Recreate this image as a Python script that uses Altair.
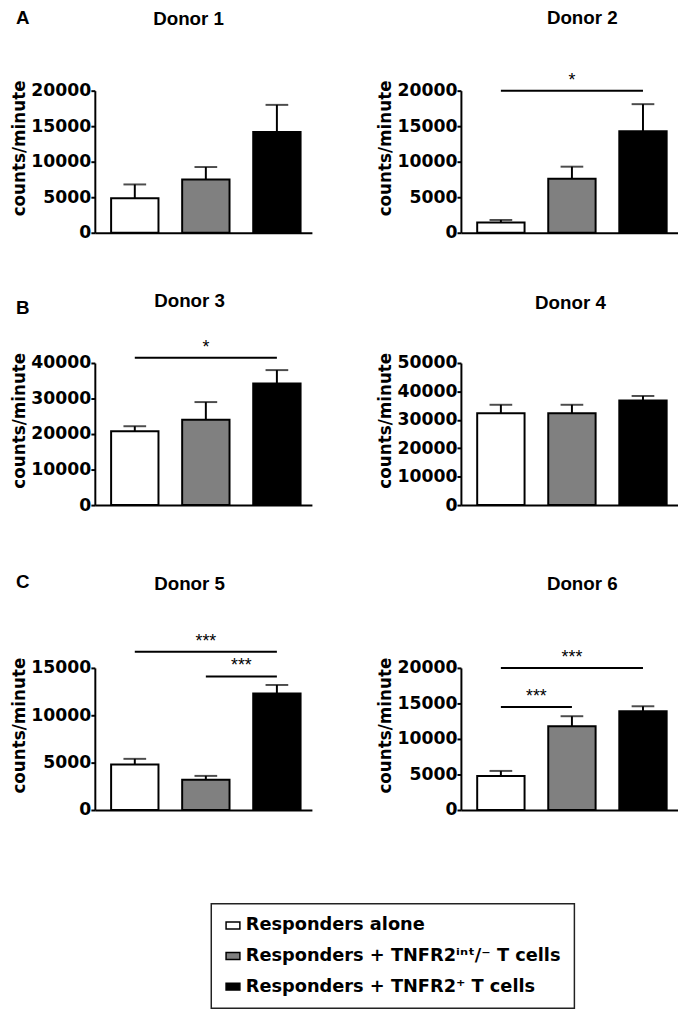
import altair as alt
import pandas as pd

# ---------------- data ----------------
GROUPS = [
    "Responders alone",
    "Responders + TNFR2ⁱⁿᵗ/⁻ T cells",
    "Responders + TNFR2⁺ T cells",
]
COLORS = ["#ffffff", "#808080", "#000000"]
DONORS = ["Donor 1", "Donor 2", "Donor 3", "Donor 4", "Donor 5", "Donor 6"]
PANEL_LETTERS = ["A", "B", "C"]

MEAN_D1 = [4850, 7500, 14200]
ERR_D1 = [6800, 9250, 18000]
MEAN_D2 = [1450, 7600, 14300]
ERR_D2 = [1800, 9300, 18100]
MEAN_D3 = [20800, 24000, 34200]
ERR_D3 = [22200, 29000, 38000]
MEAN_D4 = [32300, 32300, 36800]
ERR_D4 = [35300, 35300, 38400]
MEAN_D5 = [4800, 3200, 12300]
ERR_D5 = [5400, 3600, 13200]
MEAN_D6 = [4800, 11800, 13900]
ERR_D6 = [5500, 13200, 14600]

MEANS = [MEAN_D1, MEAN_D2, MEAN_D3, MEAN_D4, MEAN_D5, MEAN_D6]
ERRS = [ERR_D1, ERR_D2, ERR_D3, ERR_D4, ERR_D5, ERR_D6]

Y_MAX = [20000, 20000, 40000, 50000, 15000, 20000]
Y_STEP = [5000, 5000, 10000, 10000, 5000, 5000]

# significance brackets: donor index, from group, to group, level, label
SIG_DONOR = [1, 2, 4, 4, 5, 5]
SIG_FROM = [0, 0, 0, 1, 0, 0]
SIG_TO = [2, 2, 2, 2, 2, 1]
SIG_LEVEL = [20000, 41500, 16700, 14100, 20000, 14500]
SIG_LABEL = ["*", "*", "***", "***", "***", "***"]

# ---------------- layout / style ----------------
NUM_FONT = "DejaVu Sans"
TITLE_FONT = "Liberation Sans"
PW, PH = 220, 144
X_DOMAIN = [0.4375, 3.493]
TITLE_OFFSET = [52, 45, 28, 40, 40, 56]
TITLE_DX = [-15, 13, -14, 1, -14, 13]
LETTER_OFFSET = [-19, -26, -17]

legend = alt.Legend(
    title=None,
    orient="none",
    legendX=118,
    legendY=824,
    direction="vertical",
    symbolType="M-1,-0.5H1V0.5H-1Z",
    symbolSize=196,
    symbolStrokeColor="black",
    symbolStrokeWidth=1.5,
    labelFont=NUM_FONT,
    labelFontWeight="bold",
    labelFontSize=18,
    labelColor="black",
    labelLimit=600,
    labelOffset=4,
)


def make_panel(i):
    df = pd.DataFrame({
        "group": GROUPS,
        "pos": [k + 1 for k in range(len(GROUPS))],
        "mean": MEANS[i],
        "err": ERRS[i],
    })
    ticks = list(range(0, Y_MAX[i] + 1, Y_STEP[i]))
    yscale = alt.Scale(domain=[0, Y_MAX[i]], nice=False, padding=0)
    xscale = alt.Scale(domain=X_DOMAIN, nice=False, zero=False, padding=0)
    xaxis = alt.Axis(labels=False, ticks=False, title=None, grid=False)
    yaxis = alt.Axis(values=ticks, format="d", title="counts/minute",
                     titleY=58, grid=False, labelOverlap=False)

    def X(field):
        return alt.X(field, scale=xscale, axis=xaxis)

    def Y(field):
        return alt.Y(field, scale=yscale, axis=yaxis)

    bars = alt.Chart(df).mark_bar(size=48, stroke="black", strokeWidth=2).encode(
        x=X("pos:Q"), y=Y("mean:Q"),
        color=alt.Color("group:N", sort=GROUPS,
                        scale=alt.Scale(domain=GROUPS, range=COLORS),
                        legend=legend),
    )
    stem = alt.Chart(df).mark_rule(color="black", strokeWidth=2).encode(
        x=X("pos:Q"), y=Y("mean:Q"), y2="err:Q")
    cap = alt.Chart(df).mark_tick(color="black", thickness=2, size=23,
                                  orient="horizontal").encode(
        x=X("pos:Q"), y=Y("err:Q"))
    layers = [bars, stem, cap]

    rows = [k for k, d in enumerate(SIG_DONOR) if d == i]
    if rows:
        sdf = pd.DataFrame({
            "x1": [SIG_FROM[k] + 1 for k in rows],
            "x2": [SIG_TO[k] + 1 for k in rows],
            "level": [SIG_LEVEL[k] for k in rows],
            "label": [SIG_LABEL[k] for k in rows],
        })
        sdf["mid"] = (sdf["x1"] + sdf["x2"]) / 2
        layers.append(alt.Chart(sdf).mark_rule(color="black", strokeWidth=2).encode(
            x=X("x1:Q"), x2="x2:Q", y=Y("level:Q")))
        layers.append(alt.Chart(sdf).mark_text(font=TITLE_FONT, fontSize=18,
                                               baseline="bottom", dy=-1,
                                               color="black").encode(
            x=X("mid:Q"), y=Y("level:Q"), text="label:N"))

    return alt.layer(*layers).properties(
        width=PW, height=PH,
        title=alt.TitleParams(DONORS[i], offset=TITLE_OFFSET[i],
                              dx=TITLE_DX[i], font=TITLE_FONT, fontSize=19,
                              fontWeight="bold", color="black"),
    )


def make_row(r):
    return alt.hconcat(make_panel(2 * r), make_panel(2 * r + 1), spacing=66).properties(
        title=alt.TitleParams(PANEL_LETTERS[r], anchor="start", offset=LETTER_OFFSET[r],
                              dx=5, font=TITLE_FONT, fontSize=19,
                              fontWeight="bold", color="black"))


top_rows = alt.vconcat(make_row(0), make_row(1), spacing=51)

chart = (
    alt.vconcat(top_rows, make_row(2), spacing=59)
    .resolve_scale(color="shared")
    .properties(padding={"top": -6, "left": 3, "right": 0, "bottom": 0})
    .configure_view(strokeWidth=0)
    .configure_axis(
        domainColor="black", domainWidth=2, tickColor="black", tickWidth=2,
        tickSize=4, labelColor="black", titleColor="black",
        labelFont=NUM_FONT, labelFontWeight="bold", labelFontSize=17.5,
        titleFont=NUM_FONT, titleFontWeight="bold", titleFontSize=17,
        labelPadding=0, titlePadding=2,
    )
    .configure_legend(
        strokeColor="#222222", strokeWidth=1.5, fillColor="white",
        padding=13, rowPadding=13,
    )
)

chart.save("out.html", embed_options={"renderer": "svg", "actions": False})
